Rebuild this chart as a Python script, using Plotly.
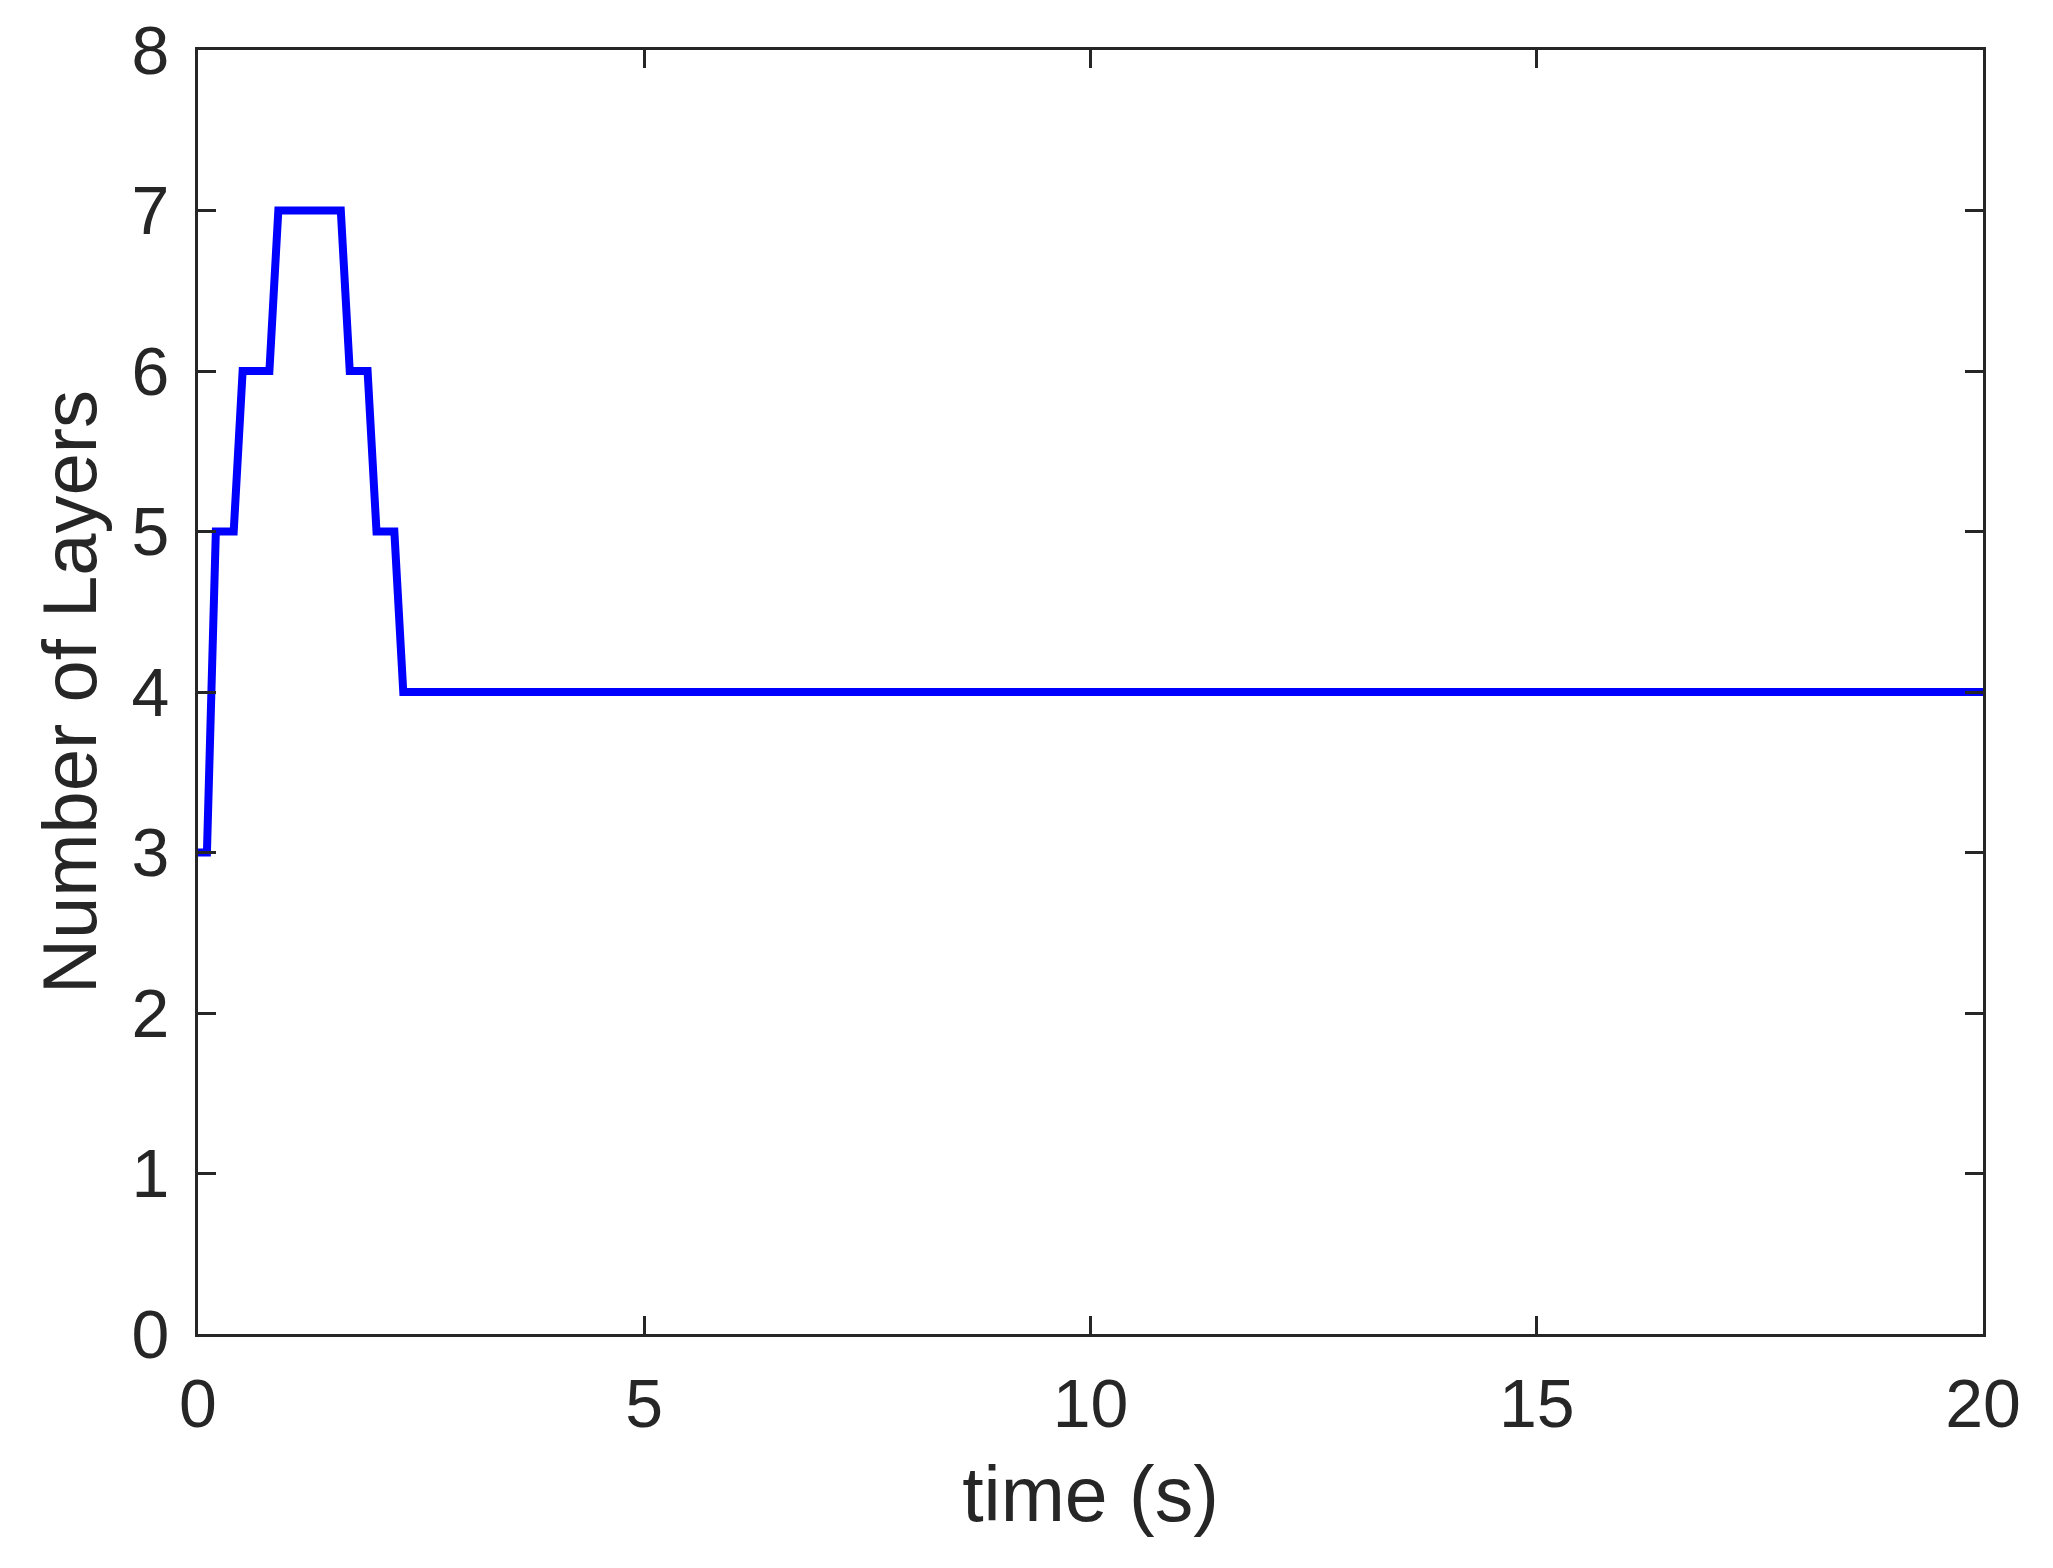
import plotly.graph_objects as go

# time (s) and number of layers
time_s = [0, 0.1, 0.2, 0.4, 0.5, 0.8, 0.9, 1.6, 1.7, 1.9, 2.0, 2.2, 2.3, 20]
layers = [3, 3, 5, 5, 6, 6, 7, 7, 6, 6, 5, 5, 4, 4]

x_ticks = [0, 5, 10, 15, 20]
y_ticks = [0, 1, 2, 3, 4, 5, 6, 7, 8]

axis_color = "#262626"
font_family = "Liberation Sans, Arial, sans-serif"

fig = go.Figure()
fig.add_trace(go.Scatter(
    x=time_s, y=layers, mode="lines",
    line=dict(color="#0000FF", width=8),
    showlegend=False,
))

common = dict(
    showline=True, linecolor=axis_color, linewidth=3, mirror="ticks",
    ticks="inside", ticklen=18, tickwidth=3, tickcolor=axis_color,
    showgrid=False, zeroline=False, automargin=False,
    tickfont=dict(family=font_family, size=68, color=axis_color),
)

fig.update_xaxes(
    range=[0, 20], tickvals=x_ticks,
    title=dict(text="time (s)", font=dict(family=font_family, size=77, color=axis_color), standoff=28),
    ticklabelstandoff=8,
    **common,
)
fig.update_yaxes(
    range=[0, 8], tickvals=y_ticks,
    title=dict(text="Number of Layers", font=dict(family=font_family, size=76, color=axis_color), standoff=10),
    ticklabelstandoff=12,
    **common,
)

# the page body adds 8px, so margins are set 8px short on the left/top
fig.update_layout(
    width=2053, height=1568,
    margin=dict(l=190, r=78, t=42, b=242),
    plot_bgcolor="white", paper_bgcolor="white",
)

fig.write_html("out.html")
